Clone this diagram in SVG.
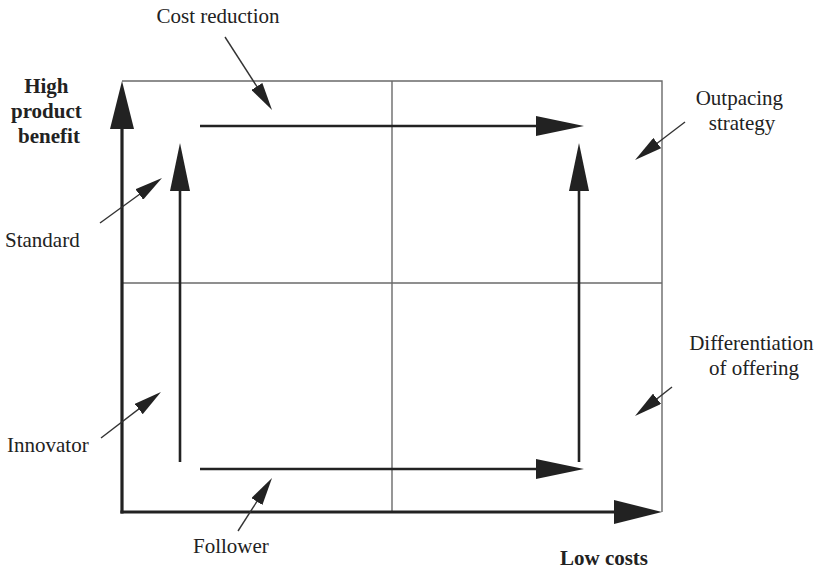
<svg xmlns="http://www.w3.org/2000/svg" width="819" height="571" viewBox="0 0 819 571">
  <style>
    .grid { stroke: #6a6a6a; stroke-width: 1.4; fill: none; }
    .axis { stroke: #222; stroke-width: 3.2; fill: none; }
    .move { stroke: #222; stroke-width: 2.6; fill: none; }
    .ptr { stroke: #333; stroke-width: 1.4; fill: none; }
    .lbl { font-family: "Liberation Serif", "Times New Roman", serif; font-size: 21px; fill: #222; }
    .bold { font-weight: bold; }
  </style>
  <defs>
    <marker id="axisHead" markerUnits="userSpaceOnUse" viewBox="0 0 48 24" markerWidth="48" markerHeight="24" refX="28" refY="12" orient="auto">
      <path d="M0,0 L48,12 L0,24 z" fill="#222"/>
    </marker>
    <marker id="moveHead" markerUnits="userSpaceOnUse" viewBox="0 0 48 20" markerWidth="48" markerHeight="20" refX="28" refY="10" orient="auto">
      <path d="M0,0 L48,10 L0,20 z" fill="#222"/>
    </marker>
    <marker id="ptrHead" markerUnits="userSpaceOnUse" viewBox="0 0 28 13" markerWidth="28" markerHeight="13" refX="20" refY="6.5" orient="auto">
      <path d="M0,0 L28,6.5 L0,13 z" fill="#222"/>
    </marker>
  </defs>

  <!-- quadrant grid -->
  <g id="grid">
    <path class="grid" d="M122,81 H662 V512"/>
    <path class="grid" d="M122,283 H662"/>
    <path class="grid" d="M392,81 V512"/>
  </g>

  <!-- axes -->
  <g id="axes">
    <line class="axis" x1="122" y1="513.6" x2="122" y2="101" marker-end="url(#axisHead)"/>
    <line class="axis" x1="120.4" y1="512" x2="642" y2="512" marker-end="url(#axisHead)"/>
  </g>

  <!-- strategy movements and label pointers -->
  <g id="connectors">
    <line class="move" x1="180" y1="462" x2="180" y2="163" marker-end="url(#moveHead)"/>
    <line class="move" x1="579" y1="462" x2="579" y2="163" marker-end="url(#moveHead)"/>
    <line class="move" x1="200" y1="126" x2="564" y2="126" marker-end="url(#moveHead)"/>
    <line class="move" x1="200" y1="469" x2="564" y2="469" marker-end="url(#moveHead)"/>

    <line class="ptr" x1="225" y1="37" x2="267.7" y2="103.3" marker-end="url(#ptrHead)"/>
    <line class="ptr" x1="100" y1="223" x2="155.5" y2="182.7" marker-end="url(#ptrHead)"/>
    <line class="ptr" x1="101" y1="438" x2="154.6" y2="396.9" marker-end="url(#ptrHead)"/>
    <line class="ptr" x1="238" y1="531" x2="267.7" y2="484.7" marker-end="url(#ptrHead)"/>
    <line class="ptr" x1="685" y1="122" x2="641.4" y2="155.2" marker-end="url(#ptrHead)"/>
    <line class="ptr" x1="672" y1="387" x2="641.3" y2="411.1" marker-end="url(#ptrHead)"/>
  </g>

  <g id="label-cost-reduction">
    <text class="lbl" x="218" y="23" text-anchor="middle">Cost reduction</text>
  </g>
  <g id="label-high-benefit">
    <text class="lbl bold" text-anchor="middle">
      <tspan x="49" y="93">High</tspan>
      <tspan x="49" y="118">product</tspan>
      <tspan x="49" y="143">benefit</tspan>
    </text>
  </g>
  <g id="label-standard">
    <text class="lbl" x="5" y="247">Standard</text>
  </g>
  <g id="label-innovator">
    <text class="lbl" x="7" y="452">Innovator</text>
  </g>
  <g id="label-follower">
    <text class="lbl" x="193" y="553">Follower</text>
  </g>
  <g id="label-low-costs">
    <text class="lbl bold" x="604" y="565" text-anchor="middle">Low costs</text>
  </g>
  <g id="label-outpacing">
    <text class="lbl" text-anchor="middle">
      <tspan x="742" y="105">Outpacing</tspan>
      <tspan x="742" y="130">strategy</tspan>
    </text>
  </g>
  <g id="label-differentiation">
    <text class="lbl" text-anchor="middle">
      <tspan x="754" y="350">Differentiation</tspan>
      <tspan x="754" y="375">of offering</tspan>
    </text>
  </g>
</svg>
